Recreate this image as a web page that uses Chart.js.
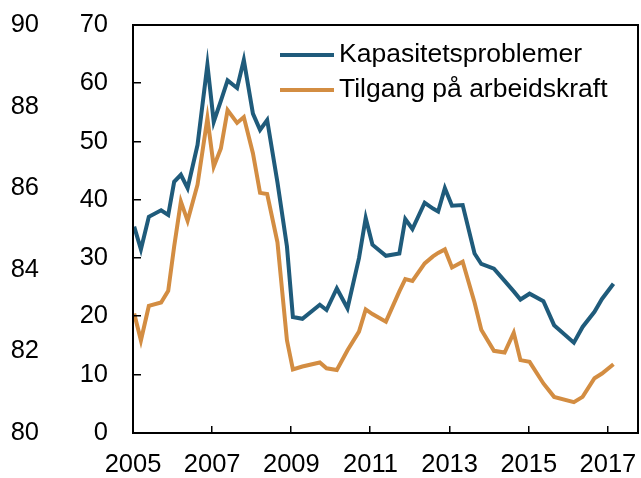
<!DOCTYPE html>
<html>
<head>
<meta charset="utf-8">
<script src="https://cdn.jsdelivr.net/npm/chart.js@4.4.1/dist/chart.umd.min.js"></script>
<style>
  html, body { margin: 0; padding: 0; background: #fff; }
</style>
</head>
<body>
<canvas id="chart" width="641" height="478"></canvas>
<script>
// survey dates (decimal years)
const dates = [
  2005.03, 2005.20, 2005.40, 2005.71, 2005.89, 2006.04, 2006.21, 2006.38, 2006.63, 2006.88,
  2007.04, 2007.22, 2007.39, 2007.63, 2007.80, 2008.03, 2008.21, 2008.39, 2008.65, 2008.89,
  2009.04, 2009.28, 2009.72, 2009.89, 2010.15, 2010.42, 2010.71, 2010.88, 2011.05, 2011.39,
  2011.73, 2011.88, 2012.06, 2012.37, 2012.58, 2012.71, 2012.88, 2013.06, 2013.33, 2013.63,
  2013.80, 2014.12, 2014.39, 2014.62, 2014.79, 2015.02, 2015.37, 2015.64, 2016.14, 2016.36,
  2016.66, 2016.85, 2017.14
];

const kapasitet = [
  35.4, 31.5, 37.1, 38.2, 37.4, 43.1, 44.3, 42.0, 49.4, 63.2,
  53.4, 57.0, 60.5, 59.2, 64.0, 54.8, 52.0, 53.7, 43.0, 32.0,
  19.9, 19.6, 22.0, 21.1, 24.8, 21.4, 30.0, 36.9, 32.3, 30.4,
  30.8, 36.7, 35.0, 39.5, 38.5, 38.0, 42.0, 39.0, 39.1, 30.8,
  29.0, 28.2, 26.1, 24.3, 22.9, 23.9, 22.6, 18.5, 15.5, 18.2,
  20.8, 23.0, 25.6
];

const arbeidskraft = [
  20.5, 15.9, 21.8, 22.4, 24.4, 32.0, 39.7, 36.4, 42.6, 54.0,
  45.7, 48.8, 55.4, 53.2, 54.2, 48.0, 41.2, 41.0, 32.7, 15.9,
  10.9, 11.4, 12.1, 11.1, 10.8, 14.2, 17.4, 21.2, 20.4, 19.1,
  24.3, 26.4, 26.1, 29.1, 30.3, 30.9, 31.5, 28.4, 29.4, 22.4,
  17.7, 14.1, 13.8, 17.2, 12.5, 12.2, 8.5, 6.2, 5.3, 6.2,
  9.4, 10.2, 11.8
];

const seriesNames = ['Kapasitetsproblemer', 'Tilgang på arbeidskraft'];
const seriesColors = ['#1f5b7b', '#d38d42'];
const yearTicks = [2005, 2007, 2009, 2011, 2013, 2015, 2017];

const FONT = "'Liberation Sans', Arial, sans-serif";

// frame round the plot area, with inward tick marks
const framePlugin = {
  id: 'frame',
  afterDraw(chart) {
    const { ctx, chartArea: a, scales } = chart;
    const L = Math.round(a.left), R = Math.round(a.right);
    const T = Math.round(a.top), B = Math.round(a.bottom);
    ctx.save();
    ctx.fillStyle = '#000';
    ctx.fillRect(L - 1, T - 1, R - L + 2, 2);
    ctx.fillRect(L - 1, B - 1, R - L + 2, 2);
    ctx.fillRect(L - 1, T - 1, 2, B - T + 2);
    ctx.fillRect(R - 1, T - 1, 2, B - T + 2);
    scales.y.ticks.forEach(t => {
      const y = Math.round(scales.y.getPixelForValue(t.value));
      ctx.fillRect(L, y - 1, 8, 1.5);
    });
    scales.x.ticks.forEach(t => {
      const x = Math.round(scales.x.getPixelForValue(t.value));
      ctx.fillRect(x - 1, B - 7, 1.5, 7);
    });
    ctx.restore();
  }
};

// legend inside the top right of the plot
const legendPlugin = {
  id: 'innerLegend',
  afterDraw(chart) {
    const { ctx, chartArea: a } = chart;
    ctx.save();
    ctx.font = '26.5px ' + FONT;
    ctx.textBaseline = 'middle';
    ctx.fillStyle = '#000';
    chart.data.datasets.forEach((ds, i) => {
      const y = a.top + 30 + i * 35;
      const x0 = a.right - 358;
      ctx.strokeStyle = ds.borderColor;
      ctx.lineWidth = 4;
      ctx.beginPath();
      ctx.moveTo(x0, y);
      ctx.lineTo(x0 + 54, y);
      ctx.stroke();
      ctx.fillText(ds.label, x0 + 59, y);
    });
    ctx.restore();
  }
};

const toPoints = vals => vals.map((v, i) => ({ x: dates[i], y: v }));

// drop the automatic label overhang padding so the layout padding rules
const noPad = s => { s.paddingTop = 0; s.paddingBottom = 0; s.paddingLeft = 0; s.paddingRight = 0; };

new Chart(document.getElementById('chart').getContext('2d'), {
  type: 'line',
  data: {
    datasets: [kapasitet, arbeidskraft].map((vals, i) => ({
      label: seriesNames[i],
      data: toPoints(vals),
      borderColor: seriesColors[i],
      borderWidth: 4,
      pointRadius: 0,
      tension: 0,
      fill: false
    }))
  },
  options: {
    responsive: false,
    animation: false,
    layout: { padding: { top: 25, right: 3, bottom: 0, left: 0 } },
    plugins: {
      legend: { display: false },
      tooltip: { enabled: false }
    },
    scales: {
      x: {
        type: 'linear',
        min: 2005,
        max: 2017.76,
        afterBuildTicks: s => { s.ticks = yearTicks.map(v => ({ value: v })); },
        afterFit: s => { s.height = 45; noPad(s); },
        grid: { display: false, drawTicks: false },
        border: { display: false },
        ticks: {
          padding: 17,
          maxRotation: 0,
          color: '#000',
          font: { family: FONT, size: 25.5 },
          callback: v => String(v)
        }
      },
      y: {
        position: 'left',
        weight: 0,
        min: 0,
        max: 70,
        afterFit: s => { s.width = 88; noPad(s); },
        grid: { display: false, drawTicks: false },
        border: { display: false },
        ticks: {
          stepSize: 10,
          padding: 25,
          color: '#000',
          font: { family: FONT, size: 25.5 }
        }
      },
      y2: {
        position: 'left',
        weight: 1,
        min: 80,
        max: 90,
        afterFit: s => { s.width = 45; noPad(s); },
        grid: { display: false, drawTicks: false },
        border: { display: false },
        ticks: {
          stepSize: 2,
          padding: 6,
          color: '#000',
          font: { family: FONT, size: 25.5 }
        }
      }
    }
  },
  plugins: [framePlugin, legendPlugin]
});
</script>
</body>
</html>
